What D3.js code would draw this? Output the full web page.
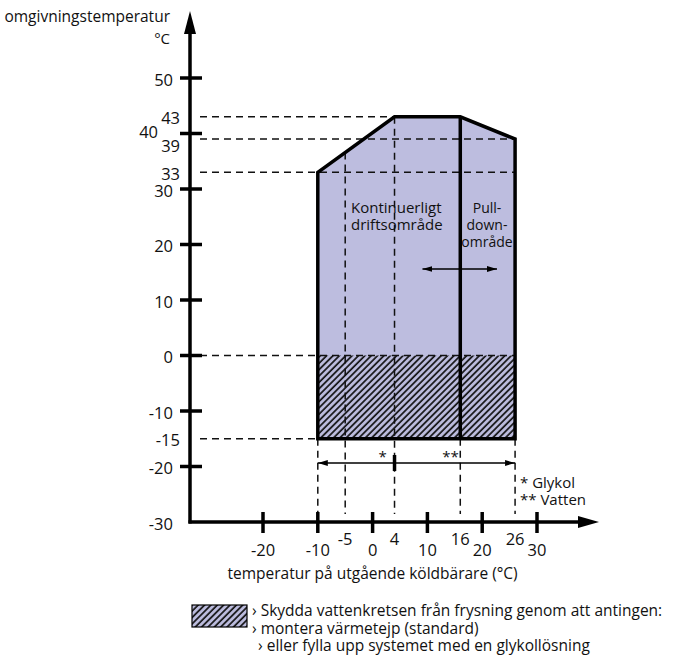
<!DOCTYPE html>
<html>
<head>
<meta charset="utf-8">
<script src="https://cdn.jsdelivr.net/npm/d3@7"></script>
<style>
  body { margin: 0; background: #fff; }
  text { font-family: "Open Sans", sans-serif; fill: #111; }
</style>
</head>
<body>
<div id="canvas"></div>
<script>
"use strict"

/* chart data */
let yTicks = [50, 40, 30, 20, 10, 0, -10, -20, -30];
let xTicks = [-20, -10, 0, 10, 20, 30];
let yMarks = [43, 39, 33, -15];          // extra labels on the y axis (no tick)
let xMarks = [-5, 4, 16, 26];            // extra labels on the x axis (no tick)
let envelope = [[-10, -15], [-10, 33], [4, 43], [16, 43], [26, 39], [26, -15]];
let pulldownAt = 16;
let frostRange = [0, -15];               // hatched band (ambient)
let glycolSplit = 4;                     // * Glykol / ** Vatten split
let regionLabels = ["Kontinuerligt", "driftsområde"];
let pulldownLabels = ["Pull-", "down-", "område"];
let pulldownArrow = [9.1, 22.7];
let legendLines = ["› Skydda vattenkretsen från frysning genom att antingen:",
                   "› montera värmetejp (standard)",
                   "› eller fylla upp systemet med en glykollösning"];

let svgWidth = 676;
let svgHeight = 659;
let fillColor = "#bdbddf";

let svg = d3.select("#canvas")
    .append("svg")
    .attr("width", svgWidth)
    .attr("height", svgHeight);

/* scales */
let xScale = d3.scaleLinear().domain([-20, 30]).range([263, 537]);
let yScale = d3.scaleLinear().domain([-30, 50]).range([522, 78]);
let axisX = 190;   // y axis position
let axisY = yScale(-30);

/* hatch pattern */
let defs = svg.append("defs");
let pat = defs.append("pattern")
    .attr("id", "hatch")
    .attr("patternUnits", "userSpaceOnUse")
    .attr("width", 4.5)
    .attr("height", 4.5)
    .attr("patternTransform", "rotate(45)");
pat.append("rect").attr("width", 4.5).attr("height", 4.5).attr("fill", fillColor);
pat.append("line")
    .attr("x1", 1).attr("y1", 0).attr("x2", 1).attr("y2", 4.5)
    .attr("stroke", "#111").attr("stroke-width", 1.7);

/* envelope fill */
let line = d3.line().x(d => xScale(d[0])).y(d => yScale(d[1]));
svg.append("path")
    .attr("d", line(envelope) + "Z")
    .attr("fill", fillColor);

/* hatched frost band */
svg.append("rect")
    .attr("x", xScale(envelope[0][0]))
    .attr("y", yScale(frostRange[0]))
    .attr("width", xScale(envelope[5][0]) - xScale(envelope[0][0]))
    .attr("height", yScale(frostRange[1]) - yScale(frostRange[0]))
    .attr("fill", "url(#hatch)");

/* dashed guides */
function dash(x1, y1, x2, y2) {
    svg.append("line")
        .attr("x1", x1).attr("y1", y1).attr("x2", x2).attr("y2", y2)
        .attr("stroke", "#111")
        .attr("stroke-width", 1.5)
        .attr("stroke-dasharray", "7,5");
}
dash(axisX + 10, yScale(43), xScale(4), yScale(43));
dash(axisX + 10, yScale(39), xScale(26), yScale(39));
dash(axisX + 10, yScale(33), xScale(26), yScale(33));
dash(axisX + 10, yScale(0), xScale(26), yScale(0));
dash(axisX + 10, yScale(-15), xScale(-10), yScale(-15));

// slanted edge height at x = -5
let slantY = 33 + (43 - 33) * (-5 - (-10)) / (4 - (-10));
dash(xScale(-10), yScale(-15), xScale(-10), axisY - 8);
dash(xScale(-5), yScale(slantY), xScale(-5), axisY - 8);
dash(xScale(4), yScale(43), xScale(4), axisY - 8);
dash(xScale(16), yScale(-15), xScale(16), axisY - 8);
dash(xScale(26), yScale(-15), xScale(26), axisY - 8);

/* envelope outline + pull-down separator */
svg.append("path")
    .attr("d", line(envelope) + "Z")
    .attr("fill", "none")
    .attr("stroke", "#000")
    .attr("stroke-width", 3.5)
    .attr("stroke-linejoin", "miter");
svg.append("line")
    .attr("x1", xScale(pulldownAt)).attr("y1", yScale(43))
    .attr("x2", xScale(pulldownAt)).attr("y2", yScale(-15))
    .attr("stroke", "#000").attr("stroke-width", 3.5);

/* arrow markers */
defs.append("marker")
    .attr("id", "arrowHead")
    .attr("viewBox", "0 0 10 10")
    .attr("refX", 10).attr("refY", 5)
    .attr("markerWidth", 10).attr("markerHeight", 10)
    .attr("markerUnits", "userSpaceOnUse")
    .attr("orient", "auto-start-reverse")
    .append("path").attr("d", "M0,2 L10,5 L0,8 Z").attr("fill", "#000");

/* pull-down double arrow */
svg.append("line")
    .attr("x1", xScale(pulldownArrow[0])).attr("y1", 269)
    .attr("x2", xScale(pulldownArrow[1])).attr("y2", 269)
    .attr("stroke", "#000").attr("stroke-width", 1.5)
    .attr("marker-start", "url(#arrowHead)")
    .attr("marker-end", "url(#arrowHead)");

/* glycol / water range arrow */
let rangeY = 463;
svg.append("line")
    .attr("x1", xScale(-10)).attr("y1", rangeY)
    .attr("x2", xScale(26)).attr("y2", rangeY)
    .attr("stroke", "#000").attr("stroke-width", 1.5)
    .attr("marker-start", "url(#arrowHead)")
    .attr("marker-end", "url(#arrowHead)");
svg.append("line")
    .attr("x1", xScale(glycolSplit)).attr("y1", rangeY - 8)
    .attr("x2", xScale(glycolSplit)).attr("y2", rangeY + 8)
    .attr("stroke", "#000").attr("stroke-width", 3.5);
svg.append("text")
    .attr("x", xScale(glycolSplit) - 12).attr("y", rangeY - 1)
    .attr("text-anchor", "middle")
    .style("font-size", "15px")
    .text("*");
svg.append("text")
    .attr("x", xScale(14.2)).attr("y", rangeY - 1)
    .attr("text-anchor", "middle")
    .style("font-size", "15px")
    .text("**");
svg.append("text")
    .attr("x", 520).attr("y", 488)
    .style("font-size", "15px")
    .text("* Glykol");
svg.append("text")
    .attr("x", 520).attr("y", 505)
    .style("font-size", "15px")
    .text("** Vatten");

/* region labels */
regionLabels.forEach(function (t, i) {
    svg.append("text")
        .attr("x", 351).attr("y", 213 + i * 17)
        .style("font-size", "15px")
        .text(t);
});
pulldownLabels.forEach(function (t, i) {
    svg.append("text")
        .attr("x", 487).attr("y", 213 + i * 17)
        .attr("text-anchor", "middle")
        .style("font-size", "14px")
        .text(t);
});

/* axes */
svg.append("line")
    .attr("x1", axisX).attr("y1", axisY + 1.5)
    .attr("x2", axisX).attr("y2", 30)
    .attr("stroke", "#000").attr("stroke-width", 3.5);
svg.append("path")
    .attr("d", `M${axisX - 6},34 L${axisX},11 L${axisX + 6},34 Z`)
    .attr("fill", "#000");
svg.append("line")
    .attr("x1", axisX - 1.5).attr("y1", axisY)
    .attr("x2", 582).attr("y2", axisY)
    .attr("stroke", "#000").attr("stroke-width", 3.5);
svg.append("path")
    .attr("d", `M578,${axisY - 6} L599,${axisY} L578,${axisY + 6} Z`)
    .attr("fill", "#000");

/* ticks */
yTicks.forEach(function (v) {
    if (v > -30) {
        svg.append("line")
            .attr("x1", axisX - 10).attr("y1", yScale(v))
            .attr("x2", axisX + 12).attr("y2", yScale(v))
            .attr("stroke", "#000").attr("stroke-width", 3.5);
    }
    let dx = (v === 40) ? -32 : -17;
    let dy = (v === 40) ? -2 : 1;
    svg.append("text")
        .attr("x", axisX + dx).attr("y", yScale(v) + dy)
        .attr("text-anchor", "end")
        .attr("dominant-baseline", "central")
        .style("font-size", "16.5px")
        .text(v);
});
yMarks.forEach(function (v) {
    let dy = (v === 39) ? 6 : (v === 43 ? 1 : 1);
    svg.append("text")
        .attr("x", axisX - 10).attr("y", yScale(v) + dy)
        .attr("text-anchor", "end")
        .attr("dominant-baseline", "central")
        .style("font-size", "16.5px")
        .text(v);
});
xTicks.forEach(function (v) {
    svg.append("line")
        .attr("x1", xScale(v)).attr("y1", axisY - 10)
        .attr("x2", xScale(v)).attr("y2", axisY + 11)
        .attr("stroke", "#000").attr("stroke-width", 3.5);
    svg.append("text")
        .attr("x", xScale(v)).attr("y", axisY + 27)
        .attr("text-anchor", "middle")
        .attr("dominant-baseline", "central")
        .style("font-size", "16.5px")
        .text(v);
});
xMarks.forEach(function (v) {
    svg.append("text")
        .attr("x", xScale(v)).attr("y", axisY + 16)
        .attr("text-anchor", "middle")
        .attr("dominant-baseline", "central")
        .style("font-size", "16.5px")
        .text(v);
});

/* axis titles */
svg.append("text")
    .attr("x", 170).attr("y", 22)
    .attr("text-anchor", "end")
    .style("font-size", "15.5px")
    .text("omgivningstemperatur");
svg.append("text")
    .attr("x", 170).attr("y", 44)
    .attr("text-anchor", "end")
    .style("font-size", "15px")
    .text("°C");
svg.append("text")
    .attr("x", xScale(0)).attr("y", 579)
    .attr("text-anchor", "middle")
    .style("font-size", "15.5px")
    .text("temperatur på utgående köldbärare (°C)");

/* legend */
svg.append("rect")
    .attr("x", 192).attr("y", 605)
    .attr("width", 55).attr("height", 22)
    .attr("fill", "url(#hatch)")
    .attr("stroke", "#000").attr("stroke-width", 1.2);
legendLines.forEach(function (t, i) {
    svg.append("text")
        .attr("x", i === 2 ? 258 : 252).attr("y", 616 + i * 17.5)
        .style("font-size", "15.5px")
        .text(t);
});
</script>
</body>
</html>
